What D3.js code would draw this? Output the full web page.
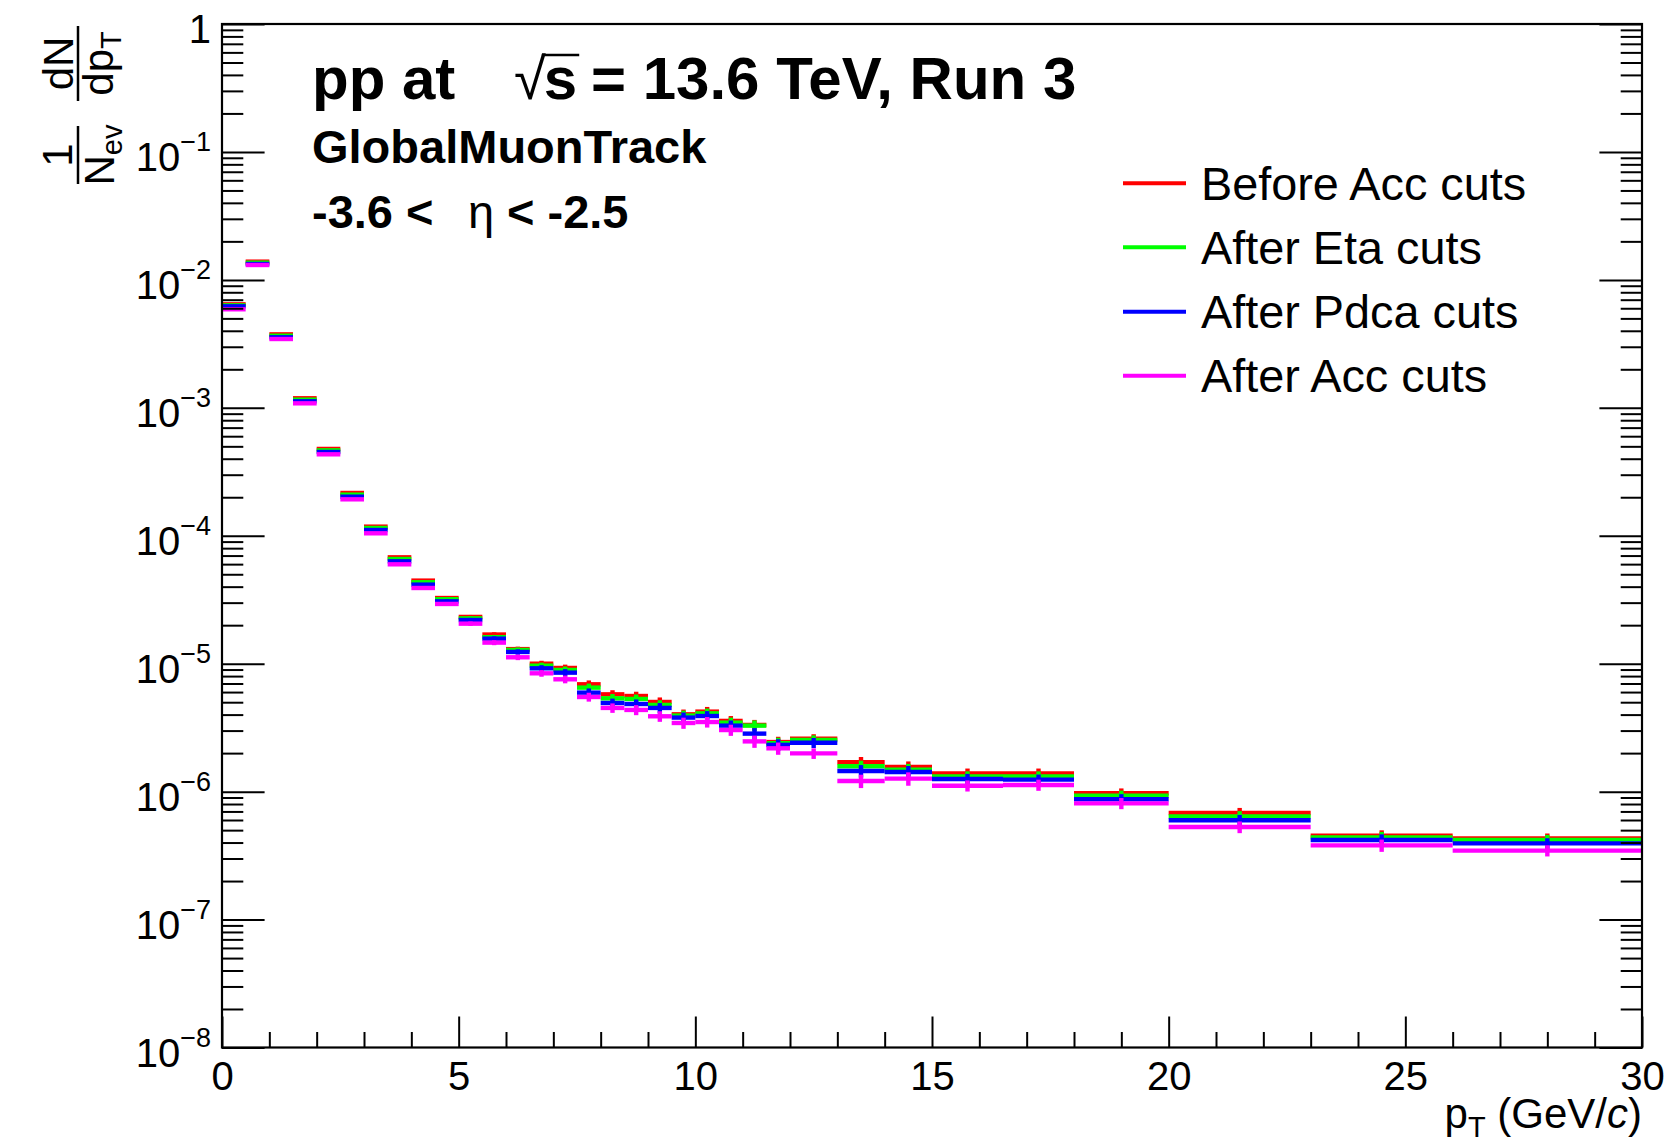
<!DOCTYPE html>
<html><head><meta charset="utf-8">
<script src="https://cdn.jsdelivr.net/npm/d3@7"></script>
<style>
html,body{margin:0;padding:0;background:#fff;}
svg{display:block;}
text{font-family:"Liberation Sans",Arial,Helvetica,sans-serif;fill:#000;}
</style></head><body>
<svg id="c" width="1675" height="1146"></svg>
<script>
// ---------------- data ----------------
const binEdges = [0,0.5,1,1.5,2,2.5,3,3.5,4,4.5,5,5.5,6,6.5,7,7.5,8,8.5,9,9.5,10,10.5,11,11.5,12,13,14,15,16.5,18,20,23,26,30];

const seriesNames = ["Before Acc cuts","After Eta cuts","After Pdca cuts","After Acc cuts"];
const seriesColors = ["#ff0000","#00ff00","#0000ff","#ff00ff"];

const valBefore = [6.44e-3,1.388e-2,3.75e-3,1.187e-3,4.77e-4,2.16e-4,1.178e-4,6.78e-5,4.46e-5,3.26e-5,2.32e-5,1.69e-5,1.30e-5,1.00e-5,9.26e-6,6.90e-6,5.76e-6,5.59e-6,5.02e-6,4.02e-6,4.22e-6,3.57e-6,3.32e-6,2.44e-6,2.59e-6,1.695e-6,1.558e-6,1.39e-6,1.39e-6,9.70e-7,6.81e-7,4.53e-7,4.31e-7];
const valEta    = [6.32e-3,1.363e-2,3.66e-3,1.158e-3,4.65e-4,2.095e-4,1.15e-4,6.58e-5,4.33e-5,3.19e-5,2.26e-5,1.61e-5,1.28e-5,9.65e-6,8.93e-6,6.50e-6,5.36e-6,5.30e-6,4.76e-6,3.93e-6,4.09e-6,3.46e-6,3.28e-6,2.39e-6,2.53e-6,1.577e-6,1.485e-6,1.317e-6,1.317e-6,9.30e-7,6.41e-7,4.39e-7,4.19e-7];
const valPdca   = [6.21e-3,1.331e-2,3.556e-3,1.124e-3,4.515e-4,2.02e-4,1.109e-4,6.31e-5,4.15e-5,3.07e-5,2.195e-5,1.569e-5,1.235e-5,9.2e-6,8.51e-6,5.94e-6,4.93e-6,4.84e-6,4.51e-6,3.79e-6,3.90e-6,3.28e-6,2.84e-6,2.32e-6,2.41e-6,1.45e-6,1.424e-6,1.255e-6,1.24e-6,8.71e-7,5.97e-7,4.19e-7,3.94e-7];
const valAcc    = [5.89e-3,1.307e-2,3.45e-3,1.084e-3,4.33e-4,1.926e-4,1.045e-4,5.98e-5,3.905e-5,2.93e-5,2.055e-5,1.461e-5,1.122e-5,8.41e-6,7.55e-6,5.49e-6,4.51e-6,4.35e-6,3.88e-6,3.44e-6,3.50e-6,3.03e-6,2.47e-6,2.18e-6,1.99e-6,1.211e-6,1.263e-6,1.113e-6,1.127e-6,8.10e-7,5.29e-7,3.80e-7,3.46e-7];

// relative statistical errors per bin
const errBefore = [0.003,0.003,0.005,0.007,0.011,0.015,0.018,0.024,0.028,0.032,0.036,0.041,0.045,0.054,0.062,0.072,0.077,0.080,0.085,0.090,0.088,0.092,0.095,0.100,0.085,0.100,0.105,0.090,0.090,0.092,0.095,0.100,0.092];
const errEta    = [0.003,0.003,0.005,0.007,0.011,0.015,0.019,0.025,0.029,0.033,0.037,0.042,0.046,0.056,0.064,0.075,0.080,0.083,0.088,0.093,0.090,0.095,0.098,0.103,0.088,0.106,0.110,0.094,0.093,0.095,0.098,0.103,0.095];
const errPdca   = [0.004,0.003,0.005,0.008,0.012,0.016,0.019,0.025,0.029,0.034,0.038,0.043,0.048,0.058,0.066,0.078,0.082,0.086,0.091,0.096,0.092,0.097,0.104,0.106,0.090,0.112,0.114,0.097,0.096,0.097,0.101,0.106,0.097];
const errAcc    = [0.004,0.003,0.005,0.008,0.012,0.016,0.020,0.026,0.030,0.035,0.040,0.045,0.050,0.060,0.070,0.080,0.085,0.090,0.095,0.100,0.095,0.100,0.110,0.110,0.095,0.120,0.120,0.100,0.100,0.100,0.105,0.110,0.100];

const xMajorTicks = [0,5,10,15,20,25,30];
const xMinorTicks = [1,2,3,4,6,7,8,9,11,12,13,14,16,17,18,19,21,22,23,24,26,27,28,29];
const yExponents = [0,-1,-2,-3,-4,-5,-6,-7,-8];

// ---------------- layout ----------------
const svg = d3.select("#c");
const M = {left:222, right:1642, top:24, bottom:1047.5};
const x = d3.scaleLinear().domain([0,30]).range([M.left, M.right]);
const y = d3.scaleLog().domain([1e-8,1]).range([M.bottom, M.top]);

const bins = binEdges.slice(0,-1).map((lo,i)=>({lo, hi:binEdges[i+1], c:(lo+binEdges[i+1])/2, i}));

const series = [
  {name:seriesNames[0], color:seriesColors[0], v:valBefore, e:errBefore},
  {name:seriesNames[1], color:seriesColors[1], v:valEta,    e:errEta},
  {name:seriesNames[2], color:seriesColors[2], v:valPdca,   e:errPdca},
  {name:seriesNames[3], color:seriesColors[3], v:valAcc,    e:errAcc}
];

const LW = 4.4;
series.forEach(s=>{
  const g = svg.append("g").attr("stroke", s.color).attr("stroke-width", LW).attr("fill","none");
  g.selectAll("line.h").data(bins).join("line").attr("class","h")
    .attr("x1", d=>x(d.lo)).attr("x2", d=>x(d.hi))
    .attr("y1", d=>y(s.v[d.i])).attr("y2", d=>y(s.v[d.i]));
  g.selectAll("line.v").data(bins).join("line").attr("class","v")
    .attr("x1", d=>x(d.c)).attr("x2", d=>x(d.c))
    .attr("y1", d=>y(s.v[d.i]*(1+s.e[d.i]))).attr("y2", d=>y(s.v[d.i]*(1-s.e[d.i])));
});

// ---------------- axes ----------------
const yMinor = [];
for (let n=-8; n<0; n++) for (let k=2; k<=9; k++) yMinor.push(k*Math.pow(10,n));
const yMajor = yExponents.map(n=>Math.pow(10,n));

function styleAxis(g){
  g.select(".domain").remove();
  g.selectAll(".tick line").attr("stroke","#000").attr("stroke-width",2);
}
const majLenY = 42.6, minLenY = 21.3, majLenX = 31, minLenX = 15.5;

svg.append("g").attr("transform",`translate(${M.left},0)`)
  .call(d3.axisLeft(y).tickValues(yMinor).tickSize(-minLenY).tickFormat(""))
  .call(styleAxis);
svg.append("g").attr("transform",`translate(${M.left},0)`)
  .call(d3.axisLeft(y).tickValues(yMajor).tickSize(-majLenY).tickFormat(""))
  .call(styleAxis);
svg.append("g").attr("transform",`translate(${M.right},0)`)
  .call(d3.axisRight(y).tickValues(yMinor).tickSize(-minLenY).tickFormat(""))
  .call(styleAxis);
svg.append("g").attr("transform",`translate(${M.right},0)`)
  .call(d3.axisRight(y).tickValues(yMajor).tickSize(-majLenY).tickFormat(""))
  .call(styleAxis);

svg.append("g").attr("transform",`translate(0,${M.bottom})`)
  .call(d3.axisBottom(x).tickValues(xMinorTicks).tickSize(-minLenX).tickFormat(""))
  .call(styleAxis);
const xa = svg.append("g").attr("transform",`translate(0,${M.bottom})`)
  .call(d3.axisBottom(x).tickValues(xMajorTicks).tickSize(-majLenX).tickPadding(14).tickFormat(d3.format("d")))
  .call(styleAxis);
xa.selectAll(".tick text").attr("font-size",40).attr("font-family","Liberation Sans, Arial, sans-serif").attr("fill","#000");

// y tick labels (10^n)
yExponents.forEach(n=>{
  const t = svg.append("text").attr("x", 211).attr("y", y(Math.pow(10,n)) + 19)
    .attr("text-anchor","end").attr("font-size",40);
  if (n===0) { t.text("1"); }
  else {
    t.append("tspan").text("10");
    t.append("tspan").attr("font-size",27).attr("dy",-20).text("\u2212"+(-n));
  }
});

// frame
svg.append("rect").attr("x",M.left).attr("y",M.top).attr("width",M.right-M.left).attr("height",M.bottom-M.top)
  .attr("fill","none").attr("stroke","#000").attr("stroke-width",2.2);

// x-axis title
const xt = svg.append("text").attr("x", M.right).attr("y", 1128).attr("text-anchor","end").attr("font-size",42);
xt.append("tspan").text("p");
xt.append("tspan").attr("font-size",29).attr("dy",9).text("T");
xt.append("tspan").attr("dy",-9).text(" (GeV/");
xt.append("tspan").attr("font-style","italic").text("c");
xt.append("tspan").text(")");

// y-axis title  (1/N_ev  dN/dp_T), rotated
const yt = svg.append("g").attr("transform","translate(78,184) rotate(-90)");
yt.append("text").attr("x",29).attr("y",-6).attr("text-anchor","middle").attr("font-size",42).text("1");
yt.append("line").attr("x1",0).attr("x2",58).attr("y1",0).attr("y2",0).attr("stroke","#000").attr("stroke-width",2.5);
const d1 = yt.append("text").attr("x",29).attr("y",36).attr("text-anchor","middle").attr("font-size",42);
d1.append("tspan").text("N");
d1.append("tspan").attr("font-size",29).attr("dy",8).text("ev");
yt.append("text").attr("x",120.5).attr("y",-5).attr("text-anchor","middle").attr("font-size",42).text("dN");
yt.append("line").attr("x1",83).attr("x2",158).attr("y1",0).attr("y2",0).attr("stroke","#000").attr("stroke-width",2.5);
const d2 = yt.append("text").attr("x",120.5).attr("y",35).attr("text-anchor","middle").attr("font-size",42);
d2.append("tspan").text("dp");
d2.append("tspan").attr("font-size",29).attr("dy",8).text("T");

// ---------------- header texts ----------------
const TS = 60;
svg.append("text").attr("x",312).attr("y",99).attr("font-size",TS).attr("font-weight","bold").text("pp at");
const sq = svg.append("text").attr("x",514).attr("y",99).attr("font-size",TS-2).attr("font-weight","normal").text("\u221A");
const sqW = sq.node().getComputedTextLength();
const sT = svg.append("text").attr("x",514+sqW-2).attr("y",99).attr("font-size",TS).attr("font-weight","bold").text("s");
const sW = sT.node().getComputedTextLength();
svg.append("line").attr("x1",514+sqW-4).attr("x2",514+sqW-2+sW+2).attr("y1",55).attr("y2",55)
  .attr("stroke","#000").attr("stroke-width",2.5);
svg.append("text").attr("x",591).attr("y",99).attr("font-size",TS).attr("font-weight","bold").text("= 13.6 TeV, Run 3");

const SS = 47;
svg.append("text").attr("x",312).attr("y",163).attr("font-size",SS).attr("font-weight","bold").text("GlobalMuonTrack");
svg.append("text").attr("x",312).attr("y",228).attr("font-size",SS).attr("font-weight","bold").text("-3.6 <");
svg.append("text").attr("x",468).attr("y",228).attr("font-size",SS).attr("font-family","Liberation Serif, DejaVu Serif, serif").text("\u03B7");
svg.append("text").attr("x",507).attr("y",228).attr("font-size",SS).attr("font-weight","bold").text("< -2.5");

// ---------------- legend ----------------
const legRows = [183.3, 247.3, 311.7, 375.7];
series.forEach((s,i)=>{
  svg.append("line").attr("x1",1123).attr("x2",1186).attr("y1",legRows[i]).attr("y2",legRows[i])
    .attr("stroke",s.color).attr("stroke-width",4);
  svg.append("text").attr("x",1201).attr("y",legRows[i]+16.7).attr("font-size",46.8).text(s.name);
});
</script>
</body></html>
